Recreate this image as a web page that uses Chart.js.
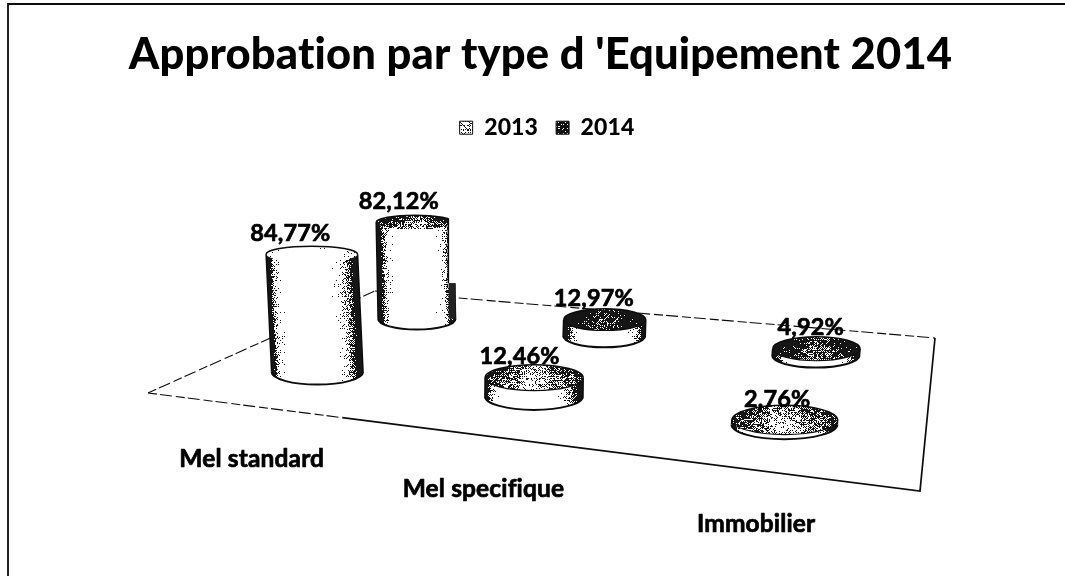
<!DOCTYPE html>
<html>
<head>
<meta charset="utf-8">
<style>html,body{margin:0;padding:0;background:#fff}#wrap{width:1065px;height:576px;position:relative}canvas{filter:blur(0.35px)}</style>
<script src="https://cdn.jsdelivr.net/npm/chart.js@4"></script>
</head>
<body>
<div id="wrap"><canvas id="c" width="1065" height="576"></canvas></div>
<script>
const categories = ['Mel standard', 'Mel specifique', 'Immobilier'];
const seriesNames = ['2013', '2014'];
const values2013 = [84.77, 12.46, 2.76];
const values2014 = [82.12, 12.97, 4.92];
const titleText = "Approbation par type d 'Equipement 2014";

const FONT = 'Lato, Carlito, sans-serif';
const INK = '#0c0c0c';
// the drawn floor, as the 3-D projection of the unit square (u along the categories, v into the depth)
const H = {a:573.95,b:371.13,c:148,d:-7.70,e:9.84,f:393,g:-0.21527,h:0.38434};
function project(u,v){
  const w = H.g*u + H.h*v + 1;
  return {x:(H.a*u+H.b*v+H.c)/w, y:(H.d*u+H.e*v+H.f)/w, scale:1/w};
}
const PX_PER_UNIT = 1.47, RATIO = 0.28, LID_FLATTEN = 0.04, LEAN = 0.00027, LEAN_X = 490;

function bayer(x,y){
  const m=[0,8,2,10,12,4,14,6,3,11,1,9,15,7,13,5];
  return (m[(y&3)*4+(x&3)]+0.5)/16;
}
function grain(x,y){ // fixed texture hash, scan look only
  const n=Math.sin(x*12.9898+y*78.233)*43758.5453; return n-Math.floor(n);
}
function dither(ctx,path,box,density){
  ctx.save();
  ctx.fillStyle='#161616';
  const x0=Math.floor(box[0]),y0=Math.floor(box[1]),x1=Math.ceil(box[2]),y1=Math.ceil(box[3]);
  for(let y=y0;y<y1;y++)for(let x=x0;x<x1;x++){
    if(!ctx.isPointInPath(path,x+.5,y+.5))continue;
    const th=bayer(x,y)*.4+grain(x,y)*.6;
    if(density(x,y)>th)ctx.fillRect(x,y,1,1);
  }
  ctx.restore();
}
const seriesStyle=[
 {left:9,right:3.8,edge:1.45,top:[null,.42,.44]},
 {left:6,right:5,edge:1.5,top:[.55,.78,.68]}
];
function topDensity(style,cat,cx,rx,cy,ry){
  const base=style.top[cat];
  return (x,y)=>{
    if(base===null){ // pale stippled lid: speckles near the rim only
      const q=Math.hypot((x-cx)/rx,(y-cy)/ry);
      const s=(x-cx)/rx;
      return Math.max(0,(q-.5)*.22)+(s>.55?(s-.55)*.6:0);
    }
    const s=(x-cx)/rx;
    const t=(y-cy)/ry;
    const patch=Math.sin(x*.42)*Math.sin(y*.9)*.12;
    return base+patch+s*s*.32-(Math.abs(s)<.3?.12:0)+(t<-.3?.12:0);
  };
}
function drawCylinder(ctx,el,uVal,vVal,dsIndex,catIndex,yScale){
  const p=project(uVal,vVal);
  const rx=el.width/2*p.scale, ry=rx*RATIO;
  const pxGain=PX_PER_UNIT/(yScale.height/100);
  const h=(el.base-el.y)*pxGain*p.scale;
  const bx=p.x, by=p.y;
  const tx=bx+(bx-LEAN_X)*LEAN*h, ty=by-h;
  const ryTop=ry-h*LID_FLATTEN;
  const style=seriesStyle[dsIndex];

  const side=new Path2D();
  side.moveTo(tx-rx,ty);
  side.lineTo(bx-rx,by);
  side.ellipse(bx,by,rx,ry,0,Math.PI,0,true);
  side.lineTo(tx+rx,ty);
  side.ellipse(tx,ty,rx,ryTop,0,0,Math.PI,true);
  side.closePath();
  ctx.fillStyle='#fff';ctx.fill(side);
  const sideDensity=(x,y)=>{
    const f=h>0?Math.min(1,Math.max(0,(by-y)/h)):0;
    const cx=bx+(tx-bx)*f;
    const s=(x-cx)/rx;
    const a=Math.abs(s);
    return (s<0?Math.pow(a,style.left):Math.pow(a,style.right))*style.edge;
  };
  dither(ctx,side,[Math.min(bx,tx)-rx,ty-ryTop,Math.max(bx,tx)+rx,by+ry+1],sideDensity);

  const lid=new Path2D();
  lid.ellipse(tx,ty,rx,ryTop,0,0,Math.PI*2);
  ctx.fillStyle='#fff';ctx.fill(lid);
  dither(ctx,lid,[tx-rx,ty-ryTop,tx+rx,ty+ryTop],topDensity(style,catIndex,tx,rx,ty,ryTop));

  ctx.save();
  ctx.strokeStyle=INK;ctx.lineWidth=2;
  ctx.beginPath();ctx.ellipse(bx,by,rx,ry,0,0,Math.PI);ctx.stroke();
  ctx.lineWidth=1.5;
  ctx.beginPath();ctx.moveTo(tx-rx,ty);ctx.lineTo(bx-rx,by);ctx.moveTo(tx+rx,ty);ctx.lineTo(bx+rx,by);ctx.stroke();
  ctx.beginPath();ctx.ellipse(tx,ty,rx,ryTop,0,Math.PI,0);ctx.stroke();
  if(style.top[catIndex]!==null&&!(dsIndex===1&&catIndex===0)){ctx.lineWidth=1.1;ctx.beginPath();ctx.ellipse(tx,ty,rx,ryTop,0,0,Math.PI);ctx.stroke();}
  ctx.restore();

  // the tall back cylinder carries a scan blemish on its upper right side
  if(dsIndex===1&&catIndex===0){
    const cutX=bx+rx-8, cutEnd=ty+61;
    ctx.save();
    ctx.fillStyle='#fff';ctx.fillRect(cutX+1,ty-ryTop-3,14,cutEnd-ty+ryTop+3);
    ctx.fillStyle=INK;ctx.fillRect(cutX,ty-4,1.6,cutEnd-ty+4);
    ctx.fillStyle='#222';ctx.fillRect(cutX+1,cutEnd,7,by-cutEnd);
    ctx.restore();
  }
  return {tx,ty,rx,ry:ryTop};
}
function legendSwatch(density){
  const cv=document.createElement('canvas');cv.width=13;cv.height=13;
  const g=cv.getContext('2d');
  g.fillStyle='#fff';g.fillRect(0,0,13,13);
  g.fillStyle='#111';
  for(let y=0;y<13;y++)for(let x=0;x<13;x++){
    if(density>bayer(x,y)*.55+grain(x,y)*.45)g.fillRect(x,y,1,1);
  }
  return cv;
}
const LETTER_SPACING='0.15px'; // non-zero spacing keeps "ti" and "fi" as separate letters
const cylinders={
  id:'cylinders',
  beforeDraw(chart){ chart.ctx.letterSpacing=LETTER_SPACING; },
  afterLayout(chart){ chart.legend.left+=6; chart.legend.right+=6; },
  afterDatasetsDraw(chart){
    const {ctx,scales:{x:xs,y:ys}}=chart;
    const left=xs.left,w=xs.width;
    // floor
    const fl=project(0,0),fr=project(1,0),br=project(1,1),bl=project(0,1);
    ctx.save();
    ctx.strokeStyle=INK;
    const mid=project(0.3,0);
    ctx.lineWidth=1.1;ctx.setLineDash([9,3,12,4]);
    ctx.beginPath();ctx.moveTo(fl.x,fl.y);ctx.lineTo(mid.x,mid.y);ctx.stroke();
    ctx.beginPath();ctx.moveTo(fl.x,fl.y);ctx.lineTo(bl.x,bl.y);ctx.stroke();
    ctx.beginPath();ctx.moveTo(bl.x,bl.y);ctx.lineTo(br.x,br.y);ctx.stroke();
    ctx.setLineDash([]);ctx.lineWidth=1.7;
    ctx.beginPath();ctx.moveTo(mid.x,mid.y);ctx.lineTo(fr.x,fr.y);ctx.lineTo(br.x,br.y);ctx.stroke();
    ctx.restore();
    // cylinders, back row first
    const tops=[];
    const n=chart.data.datasets.length;
    for(let d=n-1;d>=0;d--){
      const meta=chart.getDatasetMeta(d);
      meta.data.forEach((el,i)=>{
        const u=(xs.getPixelForValue(i)-left)/w;
        const v=(d+.5)/n;
        const t=drawCylinder(ctx,el,u,v,d,i,ys);
        tops.push({d,i,u,...t,val:chart.data.datasets[d].data[i]});
      });
    }
    // value labels
    ctx.save();
    ctx.fillStyle='#000';ctx.strokeStyle='#000';ctx.lineWidth=.7;ctx.lineJoin='round';ctx.textAlign='center';ctx.textBaseline='middle';
    ctx.font='bold 23.5px '+FONT;
    tops.forEach(t=>{
      const lx=t.tx-(25-21*t.u)*(t.d?0.75:1);
      const ly=t.ty-21;
      const s=t.val.toFixed(2).replace('.',',')+'%';
      ctx.fillText(s,lx,ly);ctx.strokeText(s,lx,ly);
    });
    // category labels, hanging below the front floor edge
    ctx.font='bold 24.5px '+FONT;
    chart.data.labels.forEach((lab,i)=>{
      const p=project((xs.getPixelForValue(i)-left)/w,0);
      const lx=p.x-1-i*3, ly=p.y+53;
      ctx.fillText(lab,lx,ly);ctx.strokeText(lab,lx,ly);
    });
    ctx.restore();
    // frame
    ctx.save();ctx.strokeStyle=INK;ctx.lineWidth=1.8;
    ctx.beginPath();ctx.moveTo(8,576);ctx.lineTo(8,4);ctx.lineTo(1065,4);ctx.stroke();ctx.restore();
  }
};
const canvas=document.getElementById('c');
const swatchPatterns=[.35,.8].map(dn=>canvas.getContext('2d').createPattern(legendSwatch(dn),'repeat'));
new Chart(canvas,{
  type:'bar',
  data:{labels:categories,datasets:[
    {label:seriesNames[0],data:values2013,backgroundColor:'rgba(0,0,0,0)',borderWidth:0,barThickness:97},
    {label:seriesNames[1],data:values2014,backgroundColor:'rgba(0,0,0,0)',borderWidth:0,barThickness:97}
  ]},
  plugins:[cylinders],
  options:{
    responsive:false,animation:false,
    layout:{padding:{top:29,bottom:200,left:36,right:20}},
    scales:{
      x:{display:false,stacked:false},
      y:{display:false,min:0,max:100}
    },
    plugins:{
      tooltip:{enabled:false},
      title:{display:true,text:titleText,color:'#000',font:{family:FONT,size:43.5,weight:'900'},padding:{top:0,bottom:17}},
      legend:{display:true,position:'top',
        labels:{color:'#000',font:{family:FONT,size:23,weight:'900'},boxWidth:13,boxHeight:13,padding:18,
          generateLabels(chart){
            return chart.data.datasets.map((ds,i)=>({text:ds.label,fillStyle:swatchPatterns[i],strokeStyle:'#111',lineWidth:1,datasetIndex:i,fontColor:'#000'}));
          }}
      }
    }
  }
});
</script>
</body>
</html>
